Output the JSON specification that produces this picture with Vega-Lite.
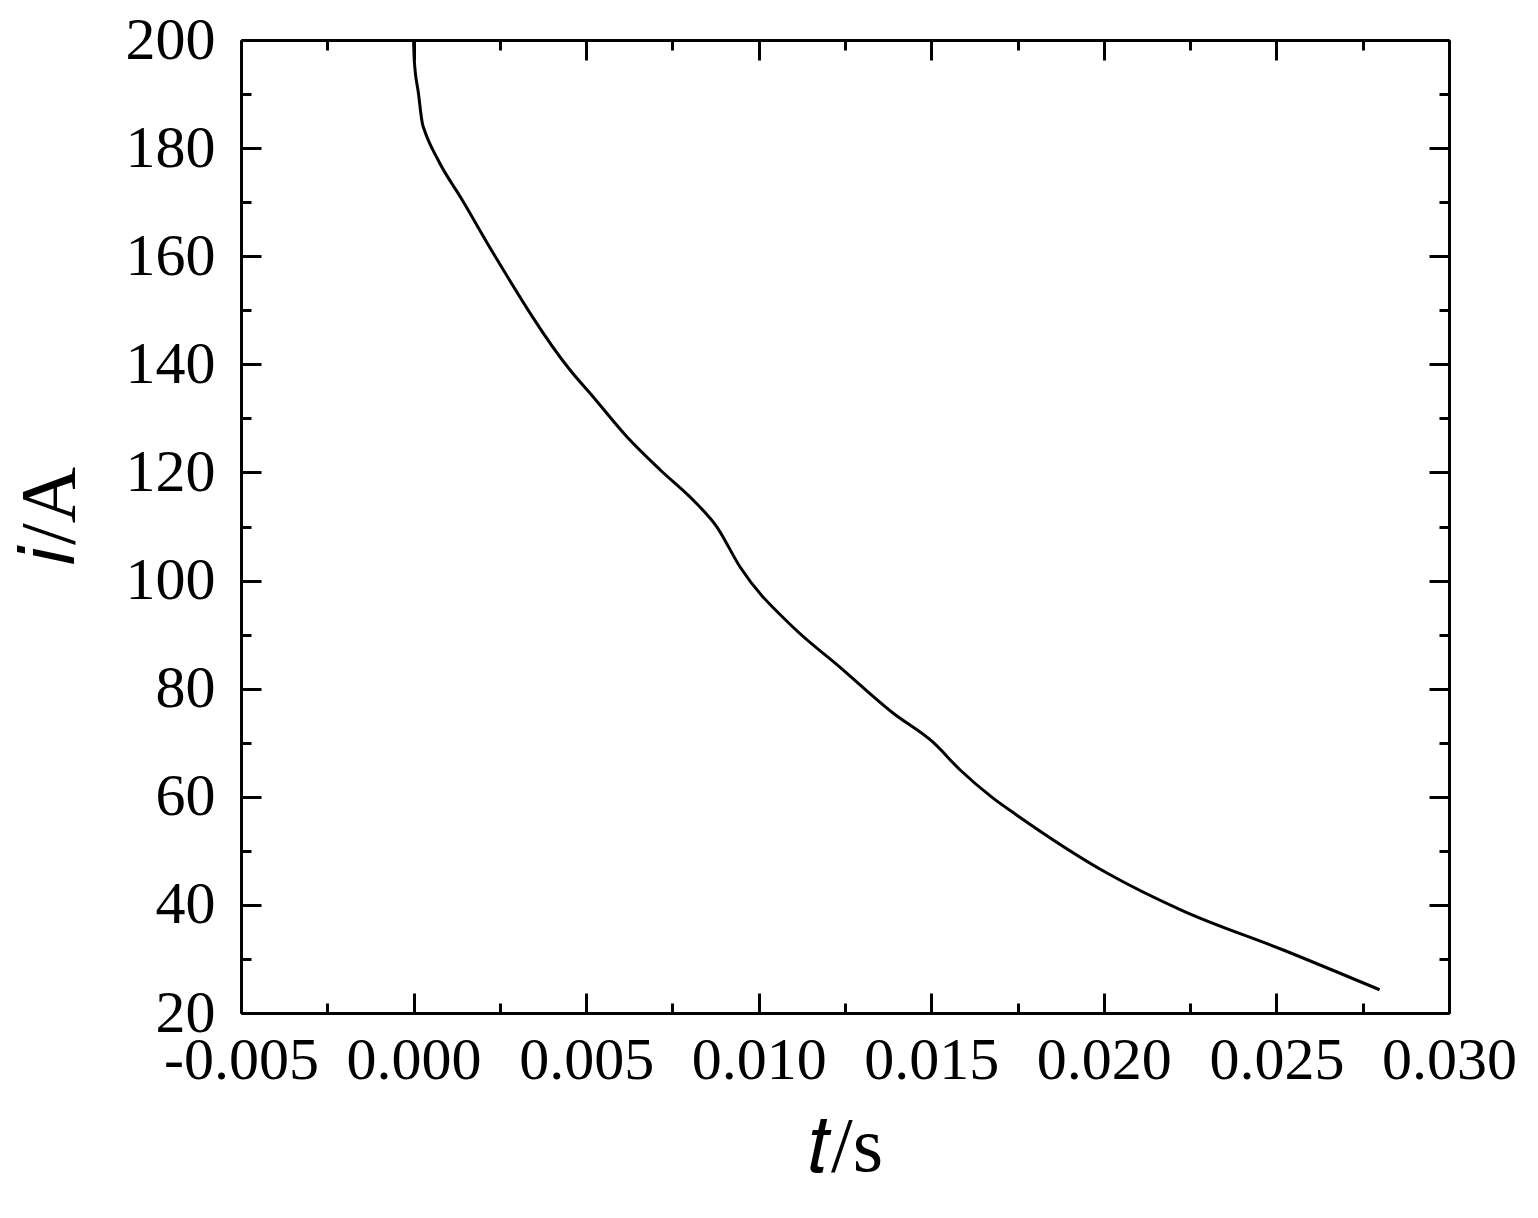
{
  "$schema": "https://vega.github.io/schema/vega-lite/v6.json",
  "autosize": {"type": "none"},
  "padding": {"left": 241, "top": 40, "right": 89, "bottom": 205},
  "width": 1208,
  "height": 973,
  "background": "white",
  "data": {"values": [
    {"t": 0.0, "i": 200.0},
    {"t": 0.00002, "i": 196.3},
    {"t": 0.00014, "i": 190.2},
    {"t": 0.00026, "i": 184.4},
    {"t": 0.00031, "i": 183.4},
    {"t": 0.00071, "i": 177.8},
    {"t": 0.00141, "i": 170.4},
    {"t": 0.00237, "i": 159.9},
    {"t": 0.00454, "i": 138.9},
    {"t": 0.00520, "i": 134.0},
    {"t": 0.00618, "i": 126.6},
    {"t": 0.00714, "i": 120.5},
    {"t": 0.00810, "i": 114.9},
    {"t": 0.00879, "i": 109.9},
    {"t": 0.00946, "i": 102.5},
    {"t": 0.01099, "i": 91.4},
    {"t": 0.01235, "i": 84.0},
    {"t": 0.01389, "i": 75.5},
    {"t": 0.01505, "i": 70.1},
    {"t": 0.01583, "i": 65.0},
    {"t": 0.01678, "i": 59.8},
    {"t": 0.01748, "i": 56.6},
    {"t": 0.02009, "i": 45.9},
    {"t": 0.02229, "i": 38.9},
    {"t": 0.02518, "i": 31.7},
    {"t": 0.02799, "i": 24.3}
  ]},
  "config": {
    "view": {"stroke": null},
    "font": "Liberation Serif",
    "axis": {
      "domainColor": "black", "domainWidth": 3, "tickColor": "black", "tickWidth": 3,
      "grid": false, "labelFont": "Liberation Serif", "labelFontSize": 60, "labelColor": "black",
      "titleFont": "Liberation Serif", "titleFontSize": 78, "titleColor": "black", "titleFontWeight": "normal"
    }
  },
  "resolve": {"axis": {"x": "independent", "y": "independent"}},
  "layer": [
    {
      "mark": {"type": "line", "color": "black", "strokeWidth": 3, "interpolate": "monotone", "clip": true},
      "encoding": {
        "x": {"field": "t", "type": "quantitative", "scale": {"domain": [-0.005, 0.03], "nice": false, "zero": false},
          "axis": {"orient": "bottom", "values": [-0.005, 0, 0.005, 0.01, 0.015, 0.02, 0.025, 0.03], "labelExpr": "datum.value < 0 ? '-' + format(-datum.value, '.3f') : format(datum.value, '.3f')", "tickSize": -20, "labelPadding": 38, "labelFlush": false, "labelOverlap": false, "title": "𝑡/s", "titlePadding": 18}},
        "y": {"field": "i", "type": "quantitative", "scale": {"domain": [20, 200], "nice": false, "zero": false},
          "axis": {"orient": "left", "values": [20, 40, 60, 80, 100, 120, 140, 160, 180, 200], "tickSize": -20, "labelPadding": 46, "labelFlush": false, "labelOverlap": false, "title": "𝑖/A", "titlePadding": 36, "titleY": 476}}
      }
    },
    {
      "mark": {"type": "line", "strokeOpacity": 0},
      "encoding": {
        "x": {"field": "t", "type": "quantitative", "axis": {"orient": "top", "values": [-0.005, 0, 0.005, 0.01, 0.015, 0.02, 0.025, 0.03], "tickSize": -20, "labels": false, "title": null}},
        "y": {"field": "i", "type": "quantitative", "axis": {"orient": "right", "values": [20, 40, 60, 80, 100, 120, 140, 160, 180, 200], "tickSize": -20, "labels": false, "title": null}}
      }
    },
    {
      "mark": {"type": "line", "strokeOpacity": 0},
      "encoding": {
        "x": {"field": "t", "type": "quantitative", "axis": {"orient": "bottom", "values": [-0.0025, 0.0025, 0.0075, 0.0125, 0.0175, 0.0225, 0.0275], "tickSize": -10, "labels": false, "title": null, "domain": false}},
        "y": {"field": "i", "type": "quantitative", "axis": {"orient": "left", "values": [30, 50, 70, 90, 110, 130, 150, 170, 190], "tickSize": -10, "labels": false, "title": null, "domain": false}}
      }
    },
    {
      "mark": {"type": "line", "strokeOpacity": 0},
      "encoding": {
        "x": {"field": "t", "type": "quantitative", "axis": {"orient": "top", "values": [-0.0025, 0.0025, 0.0075, 0.0125, 0.0175, 0.0225, 0.0275], "tickSize": -10, "labels": false, "title": null, "domain": false}},
        "y": {"field": "i", "type": "quantitative", "axis": {"orient": "right", "values": [30, 50, 70, 90, 110, 130, 150, 170, 190], "tickSize": -10, "labels": false, "title": null, "domain": false}}
      }
    }
  ]
}
